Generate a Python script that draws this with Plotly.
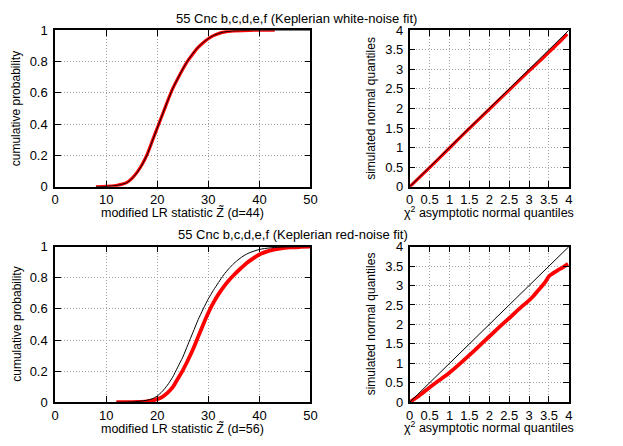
import plotly.graph_objects as go

# --- data ---
# top-left: CDF of modified LR statistic, white-noise fit (d=44)
z_top_sim = [8, 10, 12, 13, 14, 15, 16, 17, 18, 19, 20, 21, 22, 23, 24, 25, 26, 27,
             28, 29, 30, 31, 32, 33, 35, 38, 40, 43]
p_top_sim = [0, 0.002, 0.008, 0.015, 0.026, 0.052, 0.09, 0.14, 0.205, 0.29, 0.375, 0.46,
             0.545, 0.625, 0.69, 0.75, 0.805, 0.85, 0.89, 0.92, 0.945, 0.965, 0.978,
             0.988, 0.996, 0.999, 1, 1]
z_top_th = [8, 10, 12, 13, 14, 15, 16, 17, 18, 19, 20, 21, 22, 23, 24, 25, 26, 27,
            28, 29, 30, 31, 32, 33, 35, 38, 40, 45, 50]
p_top_th = [0, 0.002, 0.008, 0.015, 0.025, 0.05, 0.088, 0.138, 0.203, 0.288, 0.374, 0.46,
            0.545, 0.625, 0.69, 0.752, 0.807, 0.852, 0.891, 0.921, 0.946, 0.966, 0.979,
            0.988, 0.996, 0.999, 1, 1, 1]

# bottom-left: red-noise fit (d=56)
z_bot_sim = [12, 14, 16, 18, 20, 21, 22, 23, 24, 25, 26, 27, 28, 29, 30, 31, 32, 33,
             34, 35, 36, 37, 38, 39, 40, 42, 44, 46, 48, 50]
p_bot_sim = [0, 0.0005, 0.002, 0.006, 0.02, 0.035, 0.06, 0.095, 0.15, 0.205, 0.27, 0.34,
             0.42, 0.5, 0.575, 0.64, 0.695, 0.742, 0.783, 0.818, 0.85, 0.88, 0.907, 0.93,
             0.95, 0.975, 0.988, 0.995, 0.998, 1]
z_bot_th = [12, 14, 16, 18, 19, 20, 21, 22, 23, 24, 25, 26, 27, 28, 29, 30, 31, 32, 33,
            34, 35, 36, 37, 38, 40, 42, 44, 46, 50]
p_bot_th = [0, 0.001, 0.004, 0.013, 0.022, 0.04, 0.07, 0.11, 0.16, 0.225, 0.29, 0.37,
            0.45, 0.53, 0.6, 0.665, 0.72, 0.77, 0.818, 0.858, 0.892, 0.92, 0.943, 0.96,
            0.982, 0.992, 0.997, 0.999, 1]

# right panels: QQ plots
q_diag = [0, 4]
q_top_x = [0, 0.5, 1, 1.5, 2, 2.5, 3, 3.3, 3.5, 3.75, 3.96]
q_top_y = [0, 0.49, 0.99, 1.49, 1.98, 2.47, 2.96, 3.24, 3.44, 3.68, 3.9]
q_bot_x = [0, 0.25, 0.5, 0.75, 1, 1.25, 1.5, 1.75, 2, 2.25, 2.5, 2.75, 3, 3.1, 3.25,
           3.4, 3.5, 3.58, 3.7, 3.85, 3.98]
q_bot_y = [0, 0.18, 0.38, 0.57, 0.76, 0.98, 1.21, 1.45, 1.69, 1.93, 2.16, 2.4, 2.62,
           2.72, 2.9, 3.08, 3.24, 3.3, 3.38, 3.47, 3.56]

titles = ["55 Cnc b,c,d,e,f (Keplerian white-noise fit)",
          "55 Cnc b,c,d,e,f (Keplerian red-noise fit)"]

W, H = 623, 446
FONT = "Liberation Sans, Arial, sans-serif"

def px(x):
    return x / W

def py(y):
    return 1 - y / H

fig = go.Figure()

red = "#ff0000"
panels = [
    # (xaxis, yaxis, sim x, sim y, theory x, theory y, red width)
    ("x", "y", z_top_sim, p_top_sim, z_top_th, p_top_th, 3.2),
    ("x2", "y2", q_top_x, q_top_y, q_diag, q_diag, 3.2),
    ("x3", "y3", z_bot_sim, p_bot_sim, z_bot_th, p_bot_th, 3.8),
    ("x4", "y4", q_bot_x, q_bot_y, q_diag, q_diag, 3.8),
]
for xa, ya, sx, sy, tx, ty, w in panels:
    fig.add_trace(go.Scatter(x=sx, y=sy, xaxis=xa, yaxis=ya, mode="lines",
                             line=dict(color=red, width=w, shape="spline", smoothing=0.6),
                             showlegend=False, hoverinfo="skip"))
    fig.add_trace(go.Scatter(x=tx, y=ty, xaxis=xa, yaxis=ya, mode="lines",
                             line=dict(color="black", width=1, shape="spline", smoothing=0.6),
                             showlegend=False, hoverinfo="skip"))

axis_common = dict(
    showline=True, linecolor="black", linewidth=1.5, mirror="ticks",
    ticks="inside", ticklen=6, tickwidth=1.3, tickcolor="black",
    showgrid=True, gridcolor="#a0a0a0", griddash="1px,2px", gridwidth=1,
    zeroline=False, tickfont=dict(family=FONT, size=13, color="black"),
)

left_x = [px(52), px(312)]
right_x = [px(413), px(575)]
top_y = [py(186), py(24)]
bot_y = [py(409), py(248)]

cdf_x = dict(range=[0, 50], dtick=10, ticklabelstandoff=0, **axis_common)
cdf_y = dict(range=[0, 1], dtick=0.2, tickformat="~g", ticklabelstandoff=3, **axis_common)
qq_x = dict(range=[0, 4], dtick=0.5, tickformat="~g", ticklabelstandoff=0, **axis_common)
qq_y = dict(range=[0, 4], dtick=0.5, tickformat="~g", ticklabelstandoff=2, **axis_common)

fig.update_layout(
    width=W, height=H,
    margin=dict(l=0, r=0, t=0, b=0),
    paper_bgcolor="white", plot_bgcolor="white",
    showlegend=False,
    xaxis=dict(domain=left_x, anchor="y", **cdf_x),
    yaxis=dict(domain=top_y, anchor="x", **cdf_y),
    xaxis2=dict(domain=right_x, anchor="y2", **qq_x),
    yaxis2=dict(domain=top_y, anchor="x2", **qq_y),
    xaxis3=dict(domain=left_x, anchor="y3", **cdf_x),
    yaxis3=dict(domain=bot_y, anchor="x3", **cdf_y),
    xaxis4=dict(domain=right_x, anchor="y4", **qq_x),
    yaxis4=dict(domain=bot_y, anchor="x4", **qq_y),
)

def label(text, x, y, angle=0, size=13):
    fig.add_annotation(text=text, x=px(x), y=py(y), xref="paper", yref="paper",
                       showarrow=False, textangle=angle, xanchor="center", yanchor="middle",
                       font=dict(family=FONT, size=size, color="black"))

label(titles[0], 298, 12, size=13)
label(titles[1], 294, 235, size=13)
for ty, xt_y, tag in [(105, 213, "44"), (328, 436, "56")]:
    label("cumulative probability", 13, ty, angle=-90, size=12)
    label("simulated normal quantiles", 374, ty, angle=-90, size=12)
    label("modified LR statistic Z\u0303 (d=%s)" % tag, 182, xt_y, size=12.5)
    label("\u03c7<sup>2</sup> asymptotic normal quantiles", 494, xt_y - 1, size=12.5)

# the page body has a default 8px margin; drop it so the figure fills the window
fig.write_html("out.html", config={"displayModeBar": False},
               post_script="document.body.style.margin='0';")
